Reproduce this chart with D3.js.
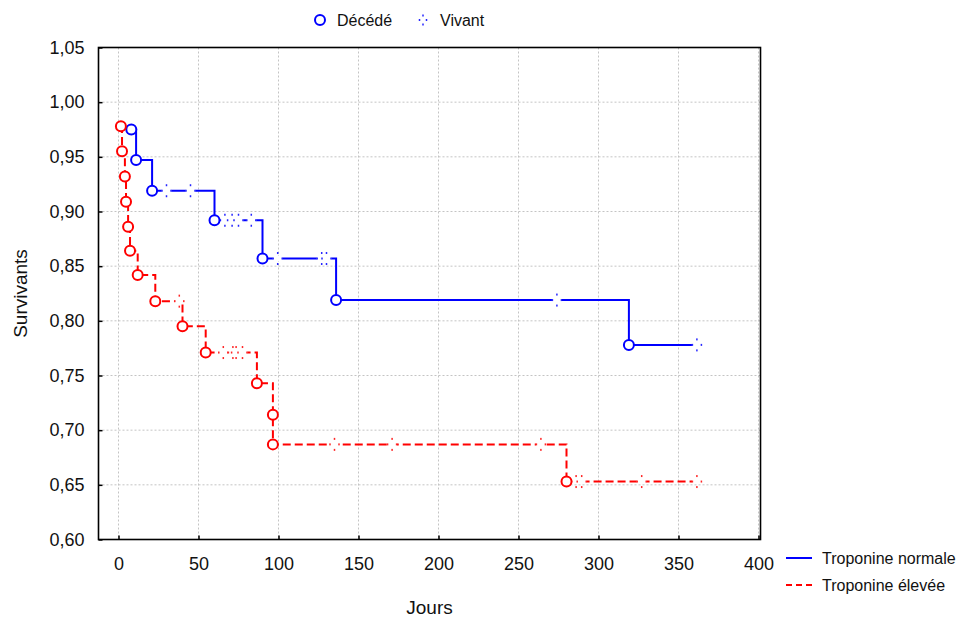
<!DOCTYPE html>
<html>
<head>
<meta charset="utf-8">
<script src="https://cdn.jsdelivr.net/npm/d3@7/dist/d3.min.js"></script>
<style>
  html, body { margin: 0; padding: 0; background: #fff; }
  svg { display: block; font-family: "Liberation Sans", Arial, sans-serif; }
</style>
</head>
<body>
<svg id="chart" width="957" height="617"></svg>
<script>
// Kaplan-Meier estimates: deaths as [day, survival after the event], censored follow-ups as days
const normaleDeces = [[8, 0.975], [11, 0.947], [21, 0.919], [60, 0.892], [90, 0.857], [136, 0.819], [319, 0.778]];
const normaleCensures = [30, 45, 66.5, 71, 75, 83, 99.5, 127, 130, 274, 361.5];

const eleveeDeces = [[1.5, 0.978], [2.2, 0.955], [4, 0.932], [4.7, 0.909], [6, 0.886], [7.2, 0.864], [12, 0.842],
  [23, 0.818], [40, 0.795], [54.5, 0.771], [86.5, 0.743], [96.5, 0.714], [96.5, 0.687], [280, 0.653]];
const eleveeCensures = [38, 65.5, 71.5, 73.5, 77.5, 135, 171, 264, 286, 289.5, 327, 361.5];

const xTicks = [0, 50, 100, 150, 200, 250, 300, 350, 400];
const yTicks = [0.60, 0.65, 0.70, 0.75, 0.80, 0.85, 0.90, 0.95, 1.00, 1.05];

const series = [
  { nom: "Troponine normale", deces: normaleDeces, censures: normaleCensures, couleur: "#0000ff", tirets: null },
  { nom: "Troponine élevée", deces: eleveeDeces, censures: eleveeCensures, couleur: "#ff0000", tirets: "8,4" }
];

const svg = d3.select("#chart");
const frame = { left: 98.5, right: 760.5, top: 47.5, bottom: 539.5 };

const x = d3.scaleLinear().domain([-12.5, 401.25]).range([frame.left, frame.right]);
const y = d3.scaleLinear().domain([0.60, 1.05]).range([frame.bottom, frame.top]);

const locale = d3.formatLocale({ decimal: ",", thousands: " ", grouping: [3], currency: ["", " €"] });
const fmtY = locale.format(".2f");

// grid
const grid = svg.append("g").attr("stroke", "#c4c4c4").attr("stroke-width", 1).attr("stroke-dasharray", "2,2");
xTicks.forEach(t => grid.append("line").attr("x1", x(t)).attr("x2", x(t)).attr("y1", frame.top).attr("y2", frame.bottom));
yTicks.forEach(t => grid.append("line").attr("x1", frame.left).attr("x2", frame.right).attr("y1", y(t)).attr("y2", y(t)));

// axes with inward ticks
const xAxis = d3.axisBottom(x).tickValues(xTicks).tickSizeInner(-4).tickSizeOuter(0).tickPadding(18).tickFormat(d3.format("d"));
const yAxis = d3.axisLeft(y).tickValues(yTicks).tickSizeInner(-4).tickSizeOuter(0).tickPadding(14).tickFormat(fmtY);

const gx = svg.append("g").attr("transform", `translate(0,${frame.bottom})`).call(xAxis);
const gy = svg.append("g").attr("transform", `translate(${frame.left},0)`).call(yAxis);
[gx, gy].forEach(g => {
  g.select(".domain").remove();
  g.selectAll(".tick line").attr("stroke", "#000").attr("stroke-width", 1.5);
  g.selectAll(".tick text").attr("fill", "#111").attr("font-size", 18).attr("font-family", "\"Liberation Sans\", Arial, sans-serif");
});

// frame
svg.append("rect")
  .attr("x", frame.left).attr("y", frame.top)
  .attr("width", frame.right - frame.left).attr("height", frame.bottom - frame.top)
  .attr("fill", "none").attr("stroke", "#000").attr("stroke-width", 1.6);

// axis titles
svg.append("text").attr("x", (frame.left + frame.right) / 2).attr("y", 614)
  .attr("text-anchor", "middle").attr("font-size", 19).attr("fill", "#111").text("Jours");
svg.append("text").attr("transform", `translate(27,${(frame.top + frame.bottom) / 2}) rotate(-90)`)
  .attr("text-anchor", "middle").attr("font-size", 19).attr("fill", "#111").text("Survivants");

function survieA(deces, t) {
  let s = 1;
  deces.forEach(d => { if (d[0] <= t) s = d[1]; });
  return s;
}

// censoring mark: gap in the curve with a dotted cross
function marqueCensure(g, cx, cy, couleur, bras, fond) {
  const m = g.append("g").attr("transform", `translate(${cx},${cy})`);
  if (fond) m.append("rect").attr("x", -5).attr("y", -2.5).attr("width", 10).attr("height", 5).attr("fill", "#fff");
  [[0, -bras], [0, bras], [-bras + 1, 0], [bras - 1, 0]].forEach(p => {
    m.append("rect").attr("x", p[0] - 0.75).attr("y", p[1] - 1).attr("width", 1.5).attr("height", 2)
      .attr("fill", couleur).attr("opacity", 0.85);
  });
}

const ligne = d3.line().x(d => x(d[0])).y(d => y(d[1])).curve(d3.curveStepAfter);

series.forEach(s => {
  const fin = d3.max(s.censures);
  const pts = s.deces.concat([[fin, s.deces[s.deces.length - 1][1]]]);
  const g = svg.append("g");
  g.append("path").attr("d", ligne(pts)).attr("fill", "none")
    .attr("stroke", s.couleur).attr("stroke-width", 2)
    .attr("stroke-dasharray", s.tirets);
  s.censures.forEach(t => marqueCensure(g, x(t), y(survieA(s.deces, t)), s.couleur, 5.5, true));
  g.selectAll("circle").data(s.deces).join("circle")
    .attr("cx", d => x(d[0])).attr("cy", d => y(d[1])).attr("r", 5)
    .attr("fill", "#fff").attr("stroke", s.couleur).attr("stroke-width", 2);
});

// top legend (markers)
svg.append("circle").attr("cx", 320).attr("cy", 20).attr("r", 5)
  .attr("fill", "#fff").attr("stroke", "#0000ff").attr("stroke-width", 2);
svg.append("text").attr("x", 337).attr("y", 26).attr("font-size", 16).attr("fill", "#111").text("Décédé");
marqueCensure(svg, 423, 20, "#0000ff", 4.5, false);
svg.append("text").attr("x", 440).attr("y", 26).attr("font-size", 16).attr("fill", "#111").text("Vivant");

// bottom-right legend (series)
series.forEach((s, i) => {
  const ly = 558 + i * 27;
  svg.append("line").attr("x1", 786).attr("x2", 812).attr("y1", ly).attr("y2", ly)
    .attr("stroke", s.couleur).attr("stroke-width", 2)
    .attr("stroke-dasharray", s.tirets ? "6,4" : null);
  svg.append("text").attr("x", 822).attr("y", ly + 6).attr("font-size", 16).attr("fill", "#111").text(s.nom);
});
</script>
</body>
</html>
